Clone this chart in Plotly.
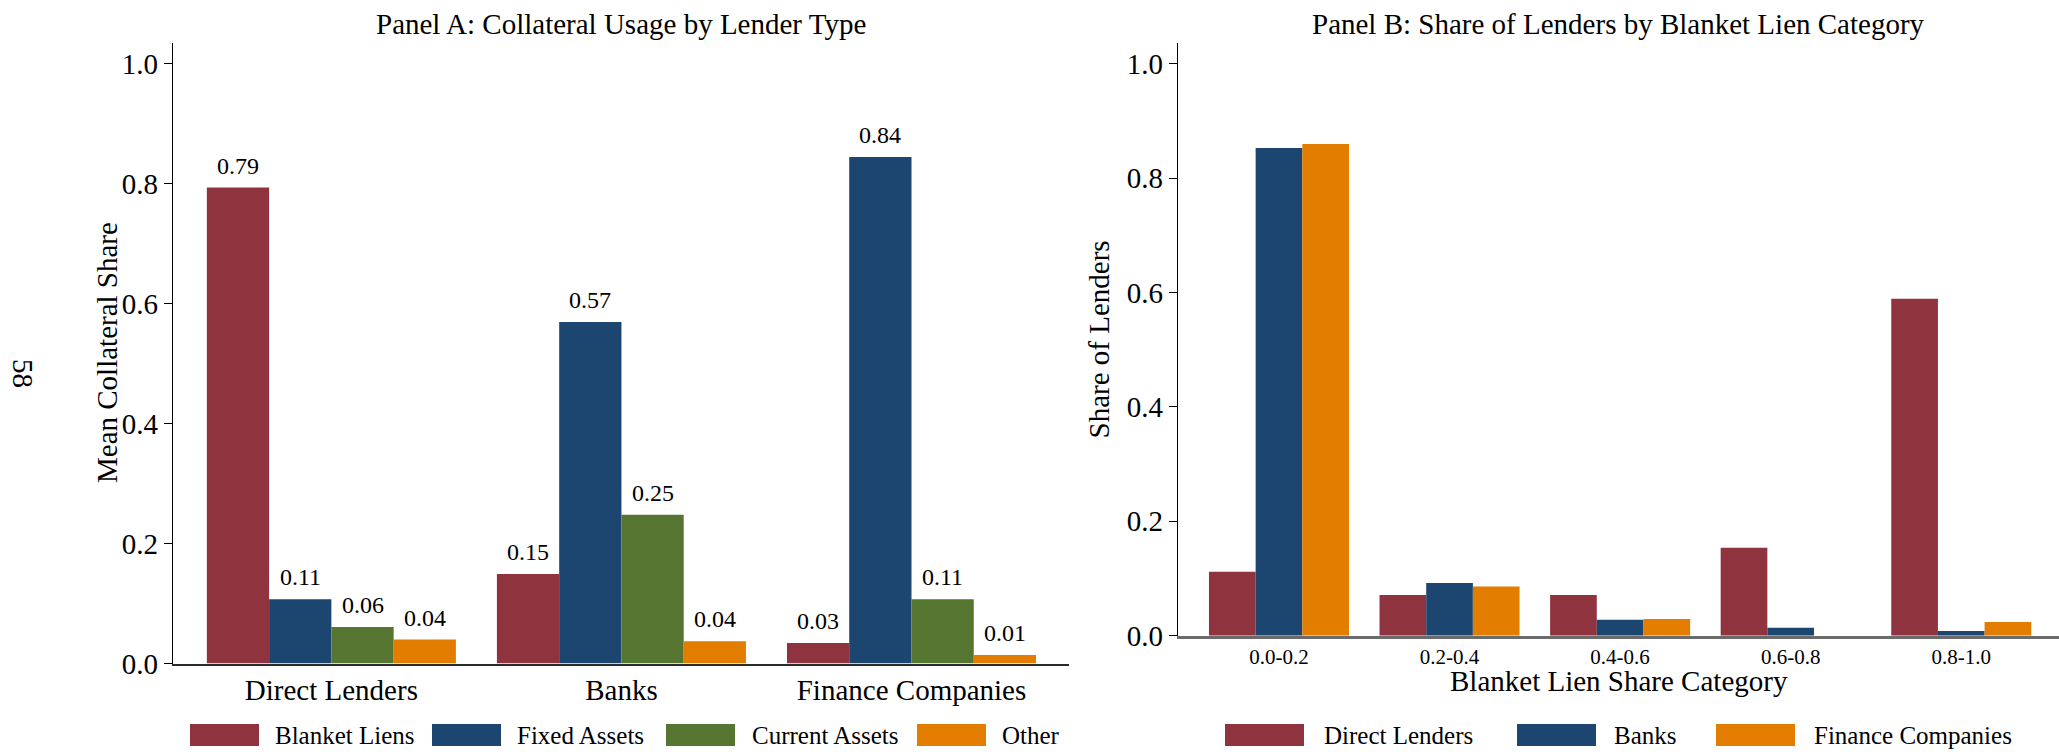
import plotly.graph_objects as go

# ---- Panel A: mean collateral share by lender type ----
lender_types = ["Direct Lenders", "Banks", "Finance Companies"]
collateral_types = ["Blanket Liens", "Fixed Assets", "Current Assets", "Other"]
blanket_liens = [0.793, 0.149, 0.034]
fixed_assets = [0.107, 0.569, 0.844]
current_assets = [0.061, 0.248, 0.107]
other_collateral = [0.040, 0.037, 0.014]

# ---- Panel B: share of lenders by blanket lien category ----
lien_bins = ["0.0-0.2", "0.2-0.4", "0.4-0.6", "0.6-0.8", "0.8-1.0"]
lender_groups = ["Direct Lenders", "Banks", "Finance Companies"]
direct_share = [0.112, 0.071, 0.071, 0.154, 0.589]
bank_share = [0.853, 0.092, 0.028, 0.014, 0.008]
finance_share = [0.860, 0.086, 0.029, 0.0, 0.024]

y_ticks = [0.0, 0.2, 0.4, 0.6, 0.8, 1.0]

RED, BLUE, GREEN, ORANGE = "#8F343F", "#1C4670", "#567530", "#E37D00"
FONT = "Liberation Serif, Times New Roman, serif"

W, H = 2059, 752


def fx(p):
    return p / W


def fy(p):
    return 1 - p / H


def text_note(x, y, text, size, xanchor="center", yanchor="middle", angle=0):
    return dict(
        x=fx(x), y=fy(y), xref="paper", yref="paper", showarrow=False,
        text=text, textangle=angle, xanchor=xanchor, yanchor=yanchor,
        font=dict(family=FONT, size=size, color="black"),
    )


fig = go.Figure()
annotations = []
shapes = []

# Panel A bars (explicit widths so the label positions follow the bars)
series_a = [blanket_liens, fixed_assets, current_assets, other_collateral]
colors_a = [RED, BLUE, GREEN, ORANGE]
group_a = 0.8586
bar_a = group_a / len(series_a)
for k, (name, vals, col) in enumerate(zip(collateral_types, series_a, colors_a)):
    off = -group_a / 2 + k * bar_a
    fig.add_trace(go.Bar(
        x=lender_types, y=vals, name=name, width=bar_a, offset=off,
        marker=dict(color=col, line=dict(width=0)),
        xaxis="x", yaxis="y", showlegend=False,
    ))
    for i, v in enumerate(vals):
        annotations.append(dict(
            x=i + off + bar_a / 2, y=v, xref="x", yref="y",
            text=f"{v:.2f}", showarrow=False,
            xanchor="center", yanchor="bottom", yshift=7,
            font=dict(family=FONT, size=24, color="black"),
        ))

# Panel B bars
series_b = [direct_share, bank_share, finance_share]
colors_b = [RED, BLUE, ORANGE]
group_b = 0.821
bar_b = group_b / len(series_b)
for k, (name, vals, col) in enumerate(zip(lender_groups, series_b, colors_b)):
    off = -group_b / 2 + k * bar_b
    fig.add_trace(go.Bar(
        x=lien_bins, y=vals, name=name, width=bar_b, offset=off,
        marker=dict(color=col, line=dict(width=0)),
        xaxis="x2", yaxis="y2", showlegend=False,
    ))

# Titles, axis titles and page number
annotations.append(text_note(621, 23.5, "Panel A: Collateral Usage by Lender Type", 29))
annotations.append(text_note(1618.5, 23.5, "Panel B: Share of Lenders by Blanket Lien Category", 29))
annotations.append(text_note(107, 353, "Mean Collateral Share", 29, angle=-90))
annotations.append(text_note(1098, 339.5, "Share of Lenders", 29, angle=-90))
annotations.append(text_note(1618.5, 681, "Blanket Lien Share Category", 29))
annotations.append(text_note(23, 373, "58", 29, angle=90))

# Legends drawn as swatches + labels
legend_y0, legend_y1, legend_mid = 724, 746, 735
legend_a = [(190, 259, 273), (432, 501, 515), (666, 735, 750), (917, 986, 1000)]
legend_b = [(1225, 1304, 1322), (1517, 1596, 1612), (1716, 1795, 1812)]
for entries, names, cols in ((legend_a, collateral_types, colors_a),
                             (legend_b, lender_groups, colors_b)):
    for (x0, x1, tx), name, col in zip(entries, names, cols):
        shapes.append(dict(type="rect", xref="paper", yref="paper",
                           x0=fx(x0), x1=fx(x1), y0=fy(legend_y1), y1=fy(legend_y0),
                           fillcolor=col, line=dict(width=0)))
        annotations.append(text_note(tx, legend_mid, name, 25, xanchor="left"))

common_y = dict(
    tickvals=y_ticks, tickformat=".1f", showgrid=False, zeroline=False,
    showline=True, linecolor="black", linewidth=1.3,
    ticks="outside", ticklen=8, tickwidth=1.3, tickcolor="black",
    tickfont=dict(family=FONT, size=29, color="black"), automargin=False,
)

fig.update_layout(
    template="none",
    width=W, height=H,
    margin=dict(l=0, r=0, t=0, b=0, pad=0),
    paper_bgcolor="white", plot_bgcolor="white",
    barmode="overlay",
    showlegend=False,
    font=dict(family=FONT, color="black"),
    annotations=annotations,
    shapes=shapes,
    xaxis=dict(
        domain=[fx(173), fx(1069)], anchor="y", type="category",
        range=[-0.546, 2.543], showgrid=False, zeroline=False,
        showline=True, linecolor="#2b2b2b", linewidth=2.2, ticks="",
        tickfont=dict(family=FONT, size=29, color="black"), automargin=False,
    ),
    yaxis=dict(domain=[fy(663.5), fy(43)], anchor="x", range=[0, 1.034], **common_y),
    xaxis2=dict(
        domain=[fx(1178), 1.0], anchor="y2", type="category",
        range=[-0.592, 4.573], showgrid=False, zeroline=False,
        showline=True, linecolor="#6b6b6b", linewidth=2.5, ticks="",
        tickfont=dict(family=FONT, size=21, color="black"), automargin=False,
    ),
    yaxis2=dict(domain=[fy(635.7), fy(43)], anchor="x2", range=[0, 1.0364], **common_y),
)

fig.write_html("out.html")
